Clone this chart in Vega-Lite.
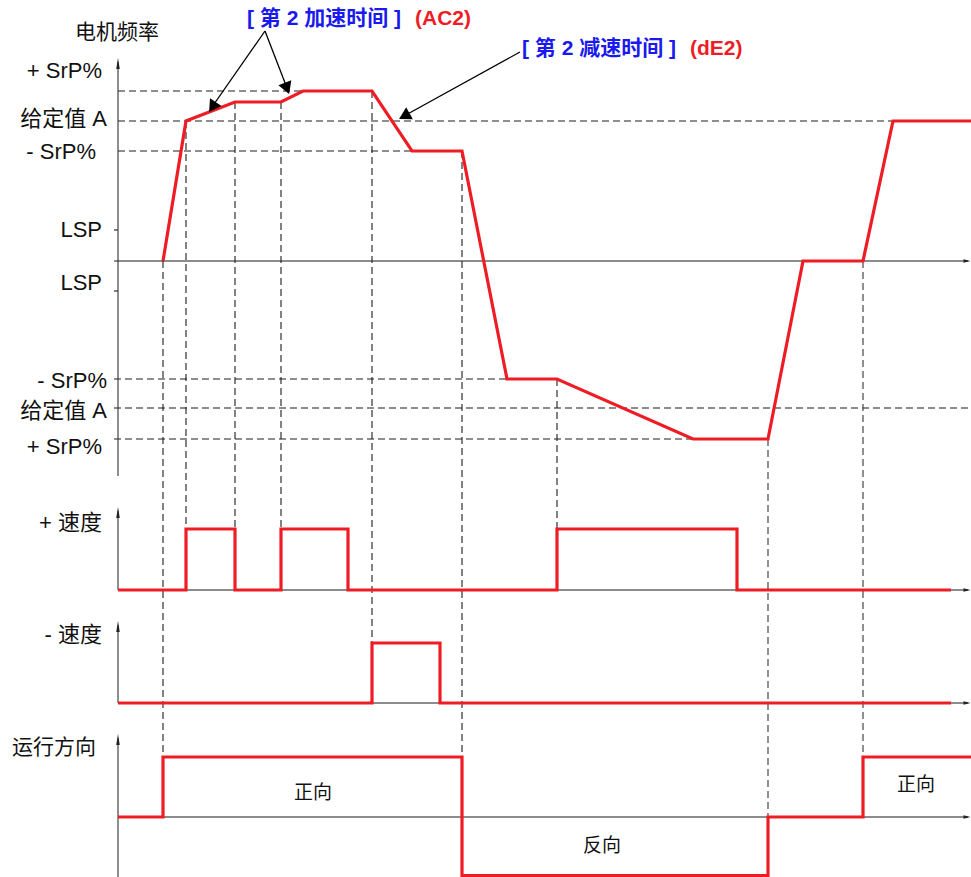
{
  "$schema": "https://vega.github.io/schema/vega-lite/v6.json",
  "width": 971,
  "height": 877,
  "autosize": {"type": "none"},
  "padding": 0,
  "background": "white",
  "config": {"view": {"stroke": null}},
  "datasets": {
    "hdash": [
      {"x": 118, "x2": 303, "y": 91},
      {"x": 118, "x2": 971, "y": 121},
      {"x": 118, "x2": 412, "y": 151},
      {"x": 114, "x2": 507, "y": 379},
      {"x": 114, "x2": 693, "y": 439}
    ],
    "hdashGray": [
      {"x": 114, "x2": 971, "y": 408}
    ],
    "vdash": [
      {"x": 163, "y": 261, "y2": 757},
      {"x": 186, "y": 121, "y2": 529},
      {"x": 235, "y": 102, "y2": 529},
      {"x": 281, "y": 102, "y2": 529},
      {"x": 372, "y": 91, "y2": 643},
      {"x": 462, "y": 151, "y2": 757},
      {"x": 557, "y": 379, "y2": 529}
    ],
    "vdashGray": [
      {"x": 768, "y": 439, "y2": 817},
      {"x": 863, "y": 261, "y2": 757}
    ],
    "axesH": [
      {"x": 114, "x2": 968, "y": 261},
      {"x": 114, "x2": 118, "y": 230},
      {"x": 114, "x2": 118, "y": 291},
      {"x": 118, "x2": 968, "y": 590},
      {"x": 118, "x2": 968, "y": 703},
      {"x": 118, "x2": 968, "y": 817}
    ],
    "axesV": [
      {"x": 118, "y": 62, "y2": 476},
      {"x": 118, "y": 511, "y2": 590},
      {"x": 118, "y": 625, "y2": 703},
      {"x": 118, "y": 738, "y2": 877}
    ],
    "arrowUp": [
      {"x": 118, "y": 63.5},
      {"x": 118, "y": 512.5},
      {"x": 118, "y": 626.5},
      {"x": 118, "y": 739.5}
    ],
    "arrowRight": [
      {"x": 967, "y": 261},
      {"x": 967, "y": 590},
      {"x": 967, "y": 703},
      {"x": 967, "y": 817}
    ],
    "red": [
      {"s": "freq", "i": 1, "x": 163, "y": 261},
      {"s": "freq", "i": 2, "x": 186, "y": 121},
      {"s": "freq", "i": 3, "x": 235, "y": 102},
      {"s": "freq", "i": 4, "x": 281, "y": 102},
      {"s": "freq", "i": 5, "x": 303, "y": 91},
      {"s": "freq", "i": 6, "x": 372, "y": 91},
      {"s": "freq", "i": 7, "x": 412, "y": 151},
      {"s": "freq", "i": 8, "x": 462, "y": 151},
      {"s": "freq", "i": 9, "x": 507, "y": 379},
      {"s": "freq", "i": 10, "x": 557, "y": 379},
      {"s": "freq", "i": 11, "x": 693, "y": 439},
      {"s": "freq", "i": 12, "x": 768, "y": 439},
      {"s": "freq", "i": 13, "x": 803, "y": 261},
      {"s": "freq", "i": 14, "x": 863, "y": 261},
      {"s": "freq", "i": 15, "x": 893, "y": 121},
      {"s": "freq", "i": 16, "x": 971, "y": 121},
      {"s": "acc", "i": 1, "x": 118, "y": 590},
      {"s": "acc", "i": 2, "x": 186, "y": 590},
      {"s": "acc", "i": 3, "x": 186, "y": 529},
      {"s": "acc", "i": 4, "x": 235, "y": 529},
      {"s": "acc", "i": 5, "x": 235, "y": 590},
      {"s": "acc", "i": 6, "x": 281, "y": 590},
      {"s": "acc", "i": 7, "x": 281, "y": 529},
      {"s": "acc", "i": 8, "x": 348, "y": 529},
      {"s": "acc", "i": 9, "x": 348, "y": 590},
      {"s": "acc", "i": 10, "x": 557, "y": 590},
      {"s": "acc", "i": 11, "x": 557, "y": 529},
      {"s": "acc", "i": 12, "x": 737, "y": 529},
      {"s": "acc", "i": 13, "x": 737, "y": 590},
      {"s": "acc", "i": 14, "x": 951, "y": 590},
      {"s": "dec", "i": 1, "x": 118, "y": 703},
      {"s": "dec", "i": 2, "x": 372, "y": 703},
      {"s": "dec", "i": 3, "x": 372, "y": 643},
      {"s": "dec", "i": 4, "x": 440, "y": 643},
      {"s": "dec", "i": 5, "x": 440, "y": 703},
      {"s": "dec", "i": 6, "x": 951, "y": 703},
      {"s": "dir", "i": 1, "x": 118, "y": 817},
      {"s": "dir", "i": 2, "x": 163, "y": 817},
      {"s": "dir", "i": 3, "x": 163, "y": 757},
      {"s": "dir", "i": 4, "x": 462, "y": 757},
      {"s": "dir", "i": 5, "x": 462, "y": 875.5},
      {"s": "dir", "i": 6, "x": 768, "y": 875.5},
      {"s": "dir", "i": 7, "x": 768, "y": 817},
      {"s": "dir", "i": 8, "x": 863, "y": 817},
      {"s": "dir", "i": 9, "x": 863, "y": 757},
      {"s": "dir", "i": 10, "x": 971, "y": 757}
    ],
    "pointers": [
      {"x": 265, "y": 31, "x2": 212, "y2": 107},
      {"x": 265, "y": 31, "x2": 287, "y2": 88},
      {"x": 520, "y": 52, "x2": 404, "y2": 116}
    ],
    "pointerHeads": [
      {"x": 212.4, "y": 107, "a": 214},
      {"x": 287, "y": 88.4, "a": 159},
      {"x": 404.3, "y": 116.1, "a": 241}
    ],
    "rightLabels": [
      {"label": "+ SrP%", "x": 102, "y": 71},
      {"label": "给定值 A", "x": 107, "y": 119},
      {"label": "- SrP%", "x": 96, "y": 152},
      {"label": "LSP", "x": 102, "y": 230},
      {"label": "LSP", "x": 102, "y": 283},
      {"label": "- SrP%", "x": 107, "y": 381},
      {"label": "给定值 A", "x": 107, "y": 411},
      {"label": "+ SrP%", "x": 102, "y": 447},
      {"label": "+ 速度", "x": 102, "y": 523},
      {"label": "- 速度", "x": 102, "y": 635}
    ],
    "centerLabels": [
      {"label": "电机频率", "x": 117, "y": 33},
      {"label": "运行方向", "x": 54, "y": 748}
    ],
    "dirLabels": [
      {"label": "正向", "x": 313, "y": 793},
      {"label": "反向", "x": 602, "y": 846},
      {"label": "正向", "x": 916, "y": 785}
    ],
    "blueNotes": [
      {"label": "[ 第 2 加速时间 ]", "x": 247, "y": 19},
      {"label": "[ 第 2 减速时间 ]", "x": 522, "y": 49}
    ],
    "redNotes": [
      {"label": "(AC2)", "x": 415, "y": 19},
      {"label": "(dE2)", "x": 690, "y": 49}
    ]
  },
  "encoding": {
    "x": {"field": "x", "type": "quantitative", "axis": null, "scale": {"domain": [0, 971], "nice": false, "zero": false}},
    "y": {"field": "y", "type": "quantitative", "axis": null, "scale": {"domain": [0, 877], "nice": false, "zero": false, "reverse": true}}
  },
  "layer": [
    {
      "data": {"name": "hdash"},
      "mark": {"type": "rule", "stroke": "#1e1e1e", "strokeWidth": 1.1, "strokeDash": [7, 4]},
      "encoding": {"x2": {"field": "x2"}}
    },
    {
      "data": {"name": "hdashGray"},
      "mark": {"type": "rule", "stroke": "#666666", "strokeWidth": 1.3, "strokeDash": [7, 4]},
      "encoding": {"x2": {"field": "x2"}}
    },
    {
      "data": {"name": "vdash"},
      "mark": {"type": "rule", "stroke": "#1e1e1e", "strokeWidth": 1.1, "strokeDash": [7, 4]},
      "encoding": {"y2": {"field": "y2"}}
    },
    {
      "data": {"name": "vdashGray"},
      "mark": {"type": "rule", "stroke": "#555555", "strokeWidth": 1.3, "strokeDash": [7, 4]},
      "encoding": {"y2": {"field": "y2"}}
    },
    {
      "data": {"name": "axesH"},
      "mark": {"type": "rule", "stroke": "#1a1a1a", "strokeWidth": 1.1},
      "encoding": {"x2": {"field": "x2"}}
    },
    {
      "data": {"name": "axesV"},
      "mark": {"type": "rule", "stroke": "#333333", "strokeWidth": 1.1},
      "encoding": {"y2": {"field": "y2"}}
    },
    {
      "data": {"name": "arrowUp"},
      "mark": {"type": "point", "shape": "M0,-1L0.32,1L-0.32,1Z", "size": 121, "filled": true, "fill": "#222222", "opacity": 1, "strokeWidth": 0}
    },
    {
      "data": {"name": "arrowRight"},
      "mark": {"type": "point", "shape": "M0,-1L0.5,1L-0.5,1Z", "size": 49, "angle": 90, "filled": true, "fill": "#222222", "opacity": 1, "strokeWidth": 0}
    },
    {
      "data": {"name": "red"},
      "mark": {"type": "line", "stroke": "#ee1d25", "strokeWidth": 3.2, "strokeJoin": "miter", "strokeCap": "butt"},
      "encoding": {
        "detail": {"field": "s"},
        "order": {"field": "i", "type": "quantitative"}
      }
    },
    {
      "data": {"name": "pointers"},
      "mark": {"type": "rule", "stroke": "#000000", "strokeWidth": 1.3},
      "encoding": {"x2": {"field": "x2"}, "y2": {"field": "y2"}}
    },
    {
      "data": {"name": "pointerHeads"},
      "mark": {"type": "point", "shape": "triangle-up", "size": 190, "filled": true, "fill": "#000000", "opacity": 1, "strokeWidth": 0},
      "encoding": {"angle": {"field": "a", "type": "quantitative", "scale": null}}
    },
    {
      "data": {"name": "rightLabels"},
      "mark": {"type": "text", "align": "right", "baseline": "middle", "font": "Liberation Sans, Noto Sans CJK SC", "fontSize": 22, "fill": "#111111"},
      "encoding": {"text": {"field": "label"}}
    },
    {
      "data": {"name": "centerLabels"},
      "mark": {"type": "text", "align": "center", "baseline": "middle", "font": "Liberation Sans, Noto Sans CJK SC", "fontSize": 21, "fill": "#111111"},
      "encoding": {"text": {"field": "label"}}
    },
    {
      "data": {"name": "dirLabels"},
      "mark": {"type": "text", "align": "center", "baseline": "middle", "font": "Liberation Sans, Noto Sans CJK SC", "fontSize": 19, "fill": "#111111"},
      "encoding": {"text": {"field": "label"}}
    },
    {
      "data": {"name": "blueNotes"},
      "mark": {"type": "text", "align": "left", "baseline": "middle", "font": "Liberation Sans, Noto Sans CJK SC", "fontSize": 21, "fontWeight": "bold", "fill": "#1a1aee"},
      "encoding": {"text": {"field": "label"}}
    },
    {
      "data": {"name": "redNotes"},
      "mark": {"type": "text", "align": "left", "baseline": "middle", "font": "Liberation Sans, Noto Sans CJK SC", "fontSize": 21, "fontWeight": "bold", "fill": "#ee1d25"},
      "encoding": {"text": {"field": "label"}}
    }
  ]
}
